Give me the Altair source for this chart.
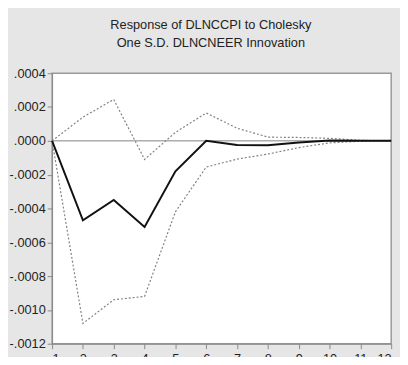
import altair as alt
import pandas as pd

periods = list(range(1, 13))
response = [0.0, -0.00047, -0.00035, -0.00051, -0.00018, 0.0, -0.000024, -0.000026, -0.00001, 0.000002, 0.0, 0.0]
upper = [0.0, 0.00014, 0.000245, -0.00011, 0.00005, 0.000165, 0.000075, 0.000022, 0.00002, 0.000015, 0.000003, 0.0]
lower = [0.0, -0.00108, -0.00094, -0.00092, -0.00042, -0.000155, -0.000108, -0.000078, -0.00004, -0.000012, -0.000002, 0.0]
y_ticks = [0.0004, 0.0002, 0.0, -0.0002, -0.0004, -0.0006, -0.0008, -0.0010, -0.0012]

df = pd.DataFrame({"period": periods, "response": response, "upper": upper, "lower": lower})
zero_df = pd.DataFrame({"zero": [0.0]})

FONT = "Liberation Sans"

x_enc = alt.X("period:Q", scale=alt.Scale(domain=[1, 12], nice=False, zero=False),
              axis=alt.Axis(values=periods, format="d", title=None, grid=False,
                            labelFont=FONT, labelFontSize=13, labelColor="#222",
                            tickColor="#888", domainColor="#888", tickSize=5,
                            labelPadding=4))
y_scale = alt.Scale(domain=[-0.0012, 0.0004], nice=False, zero=False)
y_axis = alt.Axis(values=y_ticks, title=None, grid=False,
                  labelExpr="replace(replace(format(datum.value, '.4f'), '0.', '.'), '\u2212', '-')",
                  labelFont=FONT, labelFontSize=13, labelColor="#222",
                  tickColor="#888", domainColor="#888", tickSize=5, labelPadding=2)

base = alt.Chart(df)

zero_rule = alt.Chart(zero_df).mark_rule(color="#808080", strokeWidth=1).encode(
    y=alt.Y("zero:Q", scale=y_scale, axis=y_axis))

up_line = base.mark_line(color="#808080", strokeWidth=1.2, strokeDash=[2, 2]).encode(
    x=x_enc, y=alt.Y("upper:Q", scale=y_scale, axis=y_axis))
lo_line = base.mark_line(color="#808080", strokeWidth=1.2, strokeDash=[2, 2]).encode(
    x=x_enc, y=alt.Y("lower:Q", scale=y_scale, axis=y_axis))
main_line = base.mark_line(color="#111111", strokeWidth=2).encode(
    x=x_enc, y=alt.Y("response:Q", scale=y_scale, axis=y_axis))

chart = alt.layer(zero_rule, up_line, lo_line, main_line).properties(
    width=346, height=276,
    background="#e6e6e6",
    padding={"left": 45, "top": 63, "right": 9, "bottom": 10},
    autosize=alt.AutoSizeParams(type="none"),
    title=alt.TitleParams(
        text=["Response of DLNCCPI to Cholesky", "One S.D. DLNCNEER Innovation"],
        font=FONT, fontSize=13, fontWeight="normal", color="#222",
        anchor="middle", dx=-11, offset=18, lineHeight=18,
    ),
).configure_view(stroke="#999999", strokeWidth=1.5, fill="white")

chart.save("out.html", embed_options={"renderer": "svg", "actions": False})
